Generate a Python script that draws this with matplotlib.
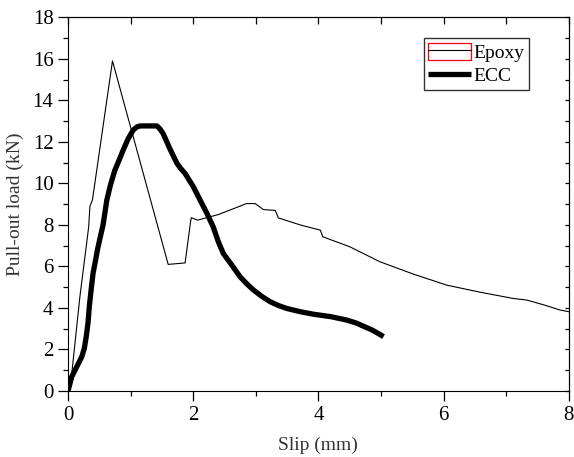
import matplotlib
matplotlib.use("Agg")
import matplotlib.pyplot as plt
from matplotlib.patches import Patch
from matplotlib.legend_handler import HandlerTuple
from matplotlib.ticker import MultipleLocator

plt.rcParams["font.family"] = ["Liberation Serif", "DejaVu Serif"]

# Epoxy pull-out curve (slip mm, load kN)
epoxy_slip = [0.0, 0.06, 0.19, 0.33, 0.35, 0.39, 0.71, 1.60, 1.87, 1.96, 1.97, 2.07,
              2.40, 2.70, 2.85, 2.99, 3.12, 3.31, 3.36, 3.71, 4.03, 4.07, 4.50,
              4.98, 5.50, 6.05, 6.60, 7.11, 7.33, 7.60, 7.86, 8.0]
epoxy_load = [0.5, 0.85, 4.55, 7.9, 8.9, 9.2, 15.9, 6.1, 6.17, 8.2, 8.35, 8.23,
              8.5, 8.85, 9.03, 9.03, 8.74, 8.7, 8.34, 8.0, 7.75, 7.43, 6.95,
              6.23, 5.65, 5.1, 4.75, 4.46, 4.38, 4.15, 3.9, 3.82]

# ECC pull-out curve
ecc_slip = [0.0, 0.06, 0.14, 0.22, 0.26, 0.29, 0.32, 0.34, 0.37, 0.40, 0.44, 0.47,
            0.51, 0.56, 0.62, 0.68, 0.75, 0.82, 0.88, 0.96, 1.04, 1.10, 1.15,
            1.42, 1.47, 1.52, 1.63, 1.74, 1.80, 1.87, 2.00, 2.11, 2.22, 2.32,
            2.40, 2.48, 2.62, 2.75, 2.86, 2.96, 3.10, 3.23, 3.36, 3.49, 3.60,
            3.71, 3.92, 4.20, 4.45, 4.60, 4.72, 4.85, 4.95, 5.04]
ecc_load = [0.0, 0.69, 1.17, 1.65, 2.05, 2.6, 3.3, 4.06, 4.9, 5.67, 6.3, 6.8,
            7.35, 8.0, 9.2, 9.95, 10.65, 11.15, 11.6, 12.15, 12.57, 12.72, 12.77,
            12.77, 12.62, 12.4, 11.65, 10.97, 10.72, 10.48, 9.85, 9.2, 8.55, 7.9,
            7.2, 6.63, 6.05, 5.5, 5.15, 4.87, 4.55, 4.3, 4.12, 3.98, 3.9,
            3.82, 3.7, 3.58, 3.42, 3.28, 3.12, 2.95, 2.78, 2.62]

fig = plt.figure(figsize=(5.74, 4.57), dpi=100)
ax = fig.add_axes([0.1185, 0.1444, 0.8725, 0.8176])

l1, = ax.plot(epoxy_slip, epoxy_load, color="black", lw=0.8)
l2, = ax.plot(ecc_slip, ecc_load, color="black", lw=3.8, solid_capstyle="butt")

ax.set_xlim(0, 8)
ax.set_ylim(0, 18)
ax.xaxis.set_major_locator(MultipleLocator(2))
ax.xaxis.set_minor_locator(MultipleLocator(1))
ax.yaxis.set_major_locator(MultipleLocator(2))
ax.yaxis.set_minor_locator(MultipleLocator(1))
ax.tick_params(which="major", direction="out", length=7, width=0.9, labelsize=15)
ax.tick_params(which="minor", direction="out", length=3.5, width=0.9)

# mirrored inward ticks on top and right
top = ax.secondary_xaxis("top")
top.xaxis.set_major_locator(MultipleLocator(1))
top.tick_params(direction="in", length=5, width=0.9, labeltop=False)
right = ax.secondary_yaxis("right")
right.yaxis.set_major_locator(MultipleLocator(1))
right.tick_params(direction="in", length=3, width=0.9, labelright=False)

ax.set_xlabel("Slip (mm)", fontsize=14, color="#333333", labelpad=9)
ax.set_ylabel("Pull-out load (kN)", fontsize=14, color="#333333", labelpad=6)

ax.legend([(Patch(facecolor="none", edgecolor="red", lw=0.9), l1), l2],
          ["Epoxy", "ECC"],
          handler_map={tuple: HandlerTuple(ndivide=1, pad=0)},
          loc="upper left", bbox_to_anchor=(0.71, 0.945), fontsize=14,
          fancybox=False, edgecolor="#333333", framealpha=1,
          handlelength=2.2, handleheight=1.0, handletextpad=0.1,
          borderpad=0.25, labelspacing=0.2, borderaxespad=0)

fig.savefig("out.png", dpi=100)
